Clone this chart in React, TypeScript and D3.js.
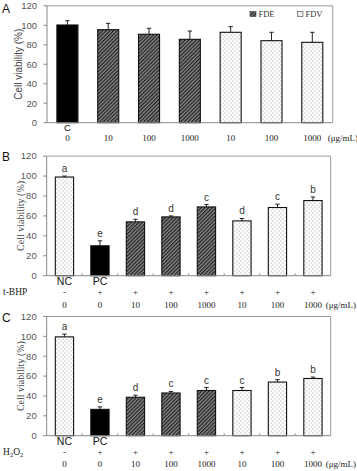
import React from "react";
import * as d3 from "d3";

// Panel A: cytotoxicity of the extracts alone
const aLabels = ["C", "", "", "", "", "", ""];
const aDoses = ["0", "10", "100", "1000", "10", "100", "1000"];
const aKinds = ["solid", "FDE", "FDE", "FDE", "FDV", "FDV", "FDV"];
const aMeans = [100.3, 95.5, 90.8, 85.6, 92.8, 84.2, 82.5];
const aErrors = [4.4, 6.5, 6.1, 8.5, 5.8, 8.6, 10.3];

// Panel B: t-BHP induced damage
const bLabels = ["NC", "PC", "", "", "", "", "", ""];
const bSigns = ["-", "+", "+", "+", "+", "+", "+", "+"];
const bDoses = ["0", "0", "10", "100", "1000", "10", "100", "1000"];
const bKinds = ["FDV", "solid", "FDE", "FDE", "FDE", "FDV", "FDV", "FDV"];
const bMeans = [99, 30, 54, 59, 69, 55, 68.4, 75.4];
const bErrors = [1, 5, 2.6, 1, 2.4, 2.4, 3.4, 3.6];
const bLetters = ["a", "e", "d", "d", "c", "d", "c", "b"];

// Panel C: H2O2 induced damage
const cLabels = ["NC", "PC", "", "", "", "", "", ""];
const cSigns = ["-", "+", "+", "+", "+", "+", "+", "+"];
const cDoses = ["0", "0", "10", "100", "1000", "10", "100", "1000"];
const cKinds = ["FDV", "solid", "FDE", "FDE", "FDE", "FDV", "FDV", "FDV"];
const cMeans = [99.5, 26.5, 38.7, 43, 45.5, 45.5, 54, 57.6];
const cErrors = [2.8, 2.5, 2, 1.6, 3, 3, 2.4, 1.4];
const cLetters = ["a", "e", "d", "c", "c", "c", "b", "b"];

const yTicks = [0, 20, 40, 60, 80, 100, 120];

const SANS = "Arial, 'Liberation Sans', sans-serif";
const SERIF = "'Times New Roman', 'Liberation Serif', serif";

function fillFor(kind: string) {
  if (kind === "solid") return "#000";
  if (kind === "FDE") return "url(#hatchFDE)";
  return "url(#dotsFDV)";
}

type PanelProps = {
  tag: string;
  left: number;
  right: number;
  top: number;
  bottom: number;
  labels: string[];
  doses: string[];
  kinds: string[];
  means: number[];
  errors: number[];
  letters?: string[];
  signs?: string[];
  treatment?: React.ReactNode;
  titleX: number;
  titleFont: string;
  labelY: number;
  labelSize: number;
  signY?: number;
  doseY: number;
  tagY: number;
  boundaryTicks: boolean;
};

function Panel(p: PanelProps) {
  const n = p.means.length;
  const x = d3
    .scaleBand<number>()
    .domain(d3.range(n))
    .range([p.left, p.right])
    .padding(0);
  const y = d3.scaleLinear().domain([0, 120]).range([p.bottom, p.top]);
  const bw = x.bandwidth() * 0.515;
  const cx = (i: number) => (x(i) as number) + x.bandwidth() / 2;

  return (
    <g>
      <text x={2} y={p.tagY} fontFamily={SANS} fontSize={12} fill="#111">
        {p.tag}
      </text>
      {/* frame */}
      <line x1={p.left} x2={p.right} y1={p.top} y2={p.top} stroke="#9a9a9a" strokeWidth={1} />
      <line x1={p.right} x2={p.right} y1={p.top} y2={p.bottom} stroke="#9a9a9a" strokeWidth={1} />
      <line x1={p.left} x2={p.left} y1={p.top} y2={p.bottom} stroke="#888" strokeWidth={1} />
      {/* y ticks */}
      {yTicks.map((t) => (
        <g key={t}>
          <line x1={p.left - 3.5} x2={p.left} y1={y(t)} y2={y(t)} stroke="#888" />
          <text
            x={p.left - 10}
            y={y(t)}
            dy="0.35em"
            textAnchor="end"
            fontFamily={SANS}
            fontSize={9.5}
            fill="#555"
          >
            {t}
          </text>
        </g>
      ))}
      <text
        transform={`translate(${p.titleX},${(p.top + p.bottom) / 2}) rotate(-90)`}
        textAnchor="middle"
        dy="0.35em"
        fontFamily={p.titleFont}
        fontSize={10}
        fill="#444"
      >
        Cell viability (%)
      </text>
      {/* bars */}
      {p.means.map((m, i) => {
        const c = cx(i);
        const top = y(m);
        const et = y(m + p.errors[i]);
        return (
          <g key={i}>
            <rect
              x={c - bw / 2}
              y={top}
              width={bw}
              height={p.bottom - top}
              fill={fillFor(p.kinds[i])}
              stroke="#111"
              strokeWidth={1.1}
            />
            <line x1={c} x2={c} y1={top} y2={et} stroke="#222" strokeWidth={1} />
            <line x1={c - 2.2} x2={c + 2.2} y1={et} y2={et} stroke="#222" strokeWidth={1} />
            {p.letters && (
              <text
                x={c}
                y={et - 4}
                textAnchor="middle"
                fontFamily={SANS}
                fontSize={10}
                fill="#333"
              >
                {p.letters[i]}
              </text>
            )}
          </g>
        );
      })}
      {/* x axis */}
      <line x1={p.left} x2={p.right} y1={p.bottom} y2={p.bottom} stroke="#888" strokeWidth={1} />
      {p.boundaryTicks &&
        d3.range(1, n).map((i) => (
          <line
            key={i}
            x1={x(i) as number}
            x2={x(i) as number}
            y1={p.bottom}
            y2={p.bottom - 2.5}
            stroke="#999"
          />
        ))}
      {p.labels.map((l, i) =>
        l ? (
          <text
            key={i}
            x={cx(i)}
            y={p.labelY}
            textAnchor="middle"
            fontFamily={SANS}
            fontSize={p.labelSize}
            fill="#111"
          >
            {l}
          </text>
        ) : null
      )}
      {p.signs &&
        p.signs.map((s, i) => (
          <text
            key={i}
            x={cx(i)}
            y={p.signY}
            textAnchor="middle"
            dy="0.35em"
            fontFamily={SERIF}
            fontSize={9}
            fill="#222"
          >
            {s}
          </text>
        ))}
      {p.treatment}
      {p.doses.map((d, i) => (
        <text
          key={i}
          x={cx(i)}
          y={p.doseY}
          textAnchor="middle"
          dy="0.35em"
          fontFamily={SERIF}
          fontSize={9}
          fill="#222"
        >
          {d}
        </text>
      ))}
      <text
        x={p.right - 5}
        y={p.doseY}
        dy="0.35em"
        fontFamily={SERIF}
        fontSize={9}
        fill="#222"
      >
        (μg/mL)
      </text>
    </g>
  );
}

export default function App() {
  return (
    <svg
      width={357}
      height={471}
      style={{ position: "absolute", left: 0, top: 0, background: "#fff" }}
    >
      <defs>
        <pattern
          id="hatchFDE"
          width={2.6}
          height={2.6}
          patternUnits="userSpaceOnUse"
          patternTransform="rotate(45)"
        >
          <rect width={2.6} height={2.6} fill="#8c8c8c" />
          <line x1={0.6} y1={0} x2={0.6} y2={2.6} stroke="#1e1e1e" strokeWidth={1.3} />
        </pattern>
        <pattern id="dotsFDV" width={4} height={4} patternUnits="userSpaceOnUse">
          <rect width={4} height={4} fill="#fff" />
          <circle cx={1} cy={1} r={0.55} fill="#8a8a8a" />
          <circle cx={3} cy={3} r={0.55} fill="#8a8a8a" />
        </pattern>
      </defs>
      <rect width={357} height={471} fill="#fff" />

      <Panel
        tag="A"
        left={47}
        right={332.7}
        top={5.8}
        bottom={122.7}
        labels={aLabels}
        doses={aDoses}
        kinds={aKinds}
        means={aMeans}
        errors={aErrors}
        titleX={18}
        titleFont={SANS}
        labelY={130.5}
        labelSize={9.5}
        doseY={138}
        tagY={13}
        boundaryTicks={false}
      />
      {/* legend */}
      <g>
        <rect x={250} y={11.5} width={6} height={5} fill="url(#hatchFDE)" stroke="#333" strokeWidth={0.6} />
        <text x={258.5} y={14.2} dy="0.35em" fontFamily={SERIF} fontSize={8.5} fill="#333">
          FDE
        </text>
        <rect x={297.5} y={11.5} width={5.5} height={5} fill="url(#dotsFDV)" stroke="#444" strokeWidth={0.6} />
        <text x={305.5} y={14.2} dy="0.35em" fontFamily={SERIF} fontSize={8.5} fill="#333">
          FDV
        </text>
      </g>

      <Panel
        tag="B"
        left={46.7}
        right={330.7}
        top={156.1}
        bottom={275.7}
        labels={bLabels}
        doses={bDoses}
        kinds={bKinds}
        means={bMeans}
        errors={bErrors}
        letters={bLetters}
        signs={bSigns}
        treatment={
          <text x={3} y={292} dy="0.35em" fontFamily={SERIF} fontSize={9.5} fill="#222">
            t-BHP
          </text>
        }
        titleX={20}
        titleFont={SERIF}
        labelY={285}
        labelSize={10.5}
        signY={292}
        doseY={304.5}
        tagY={161}
        boundaryTicks={true}
      />

      <Panel
        tag="C"
        left={46.7}
        right={330.7}
        top={316.5}
        bottom={435.7}
        labels={cLabels}
        doses={cDoses}
        kinds={cKinds}
        means={cMeans}
        errors={cErrors}
        letters={cLetters}
        signs={cSigns}
        treatment={
          <text x={3} y={451.5} dy="0.35em" fontFamily={SERIF} fontSize={9.5} fill="#222">
            H<tspan fontSize={6.5} dy="2">2</tspan>
            <tspan dy="-2">O</tspan>
            <tspan fontSize={6.5} dy="2">2</tspan>
          </text>
        }
        titleX={20}
        titleFont={SERIF}
        labelY={444.5}
        labelSize={10.5}
        signY={451.5}
        doseY={464}
        tagY={322}
        boundaryTicks={true}
      />
    </svg>
  );
}
